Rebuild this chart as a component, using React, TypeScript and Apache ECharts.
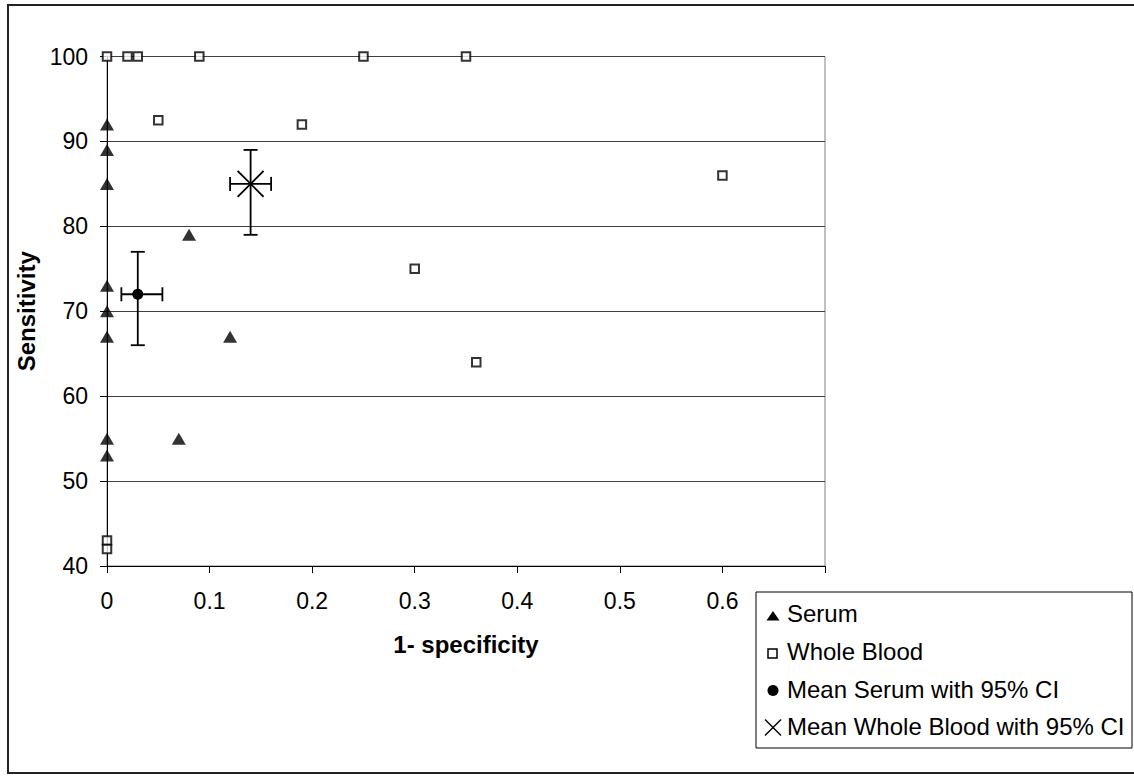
import React, { useEffect, useRef } from "react";
import * as echarts from "echarts";

// ---- data ----
const serumX = [0, 0, 0, 0, 0, 0, 0, 0, 0.08, 0.12, 0.07];
const serumY = [92, 89, 85, 73, 70, 67, 55, 53, 79, 67, 55];

const bloodX = [0, 0.02, 0.03, 0.09, 0.25, 0.35, 0.05, 0.19, 0.6, 0.3, 0.36, 0, 0];
const bloodY = [100, 100, 100, 100, 100, 100, 92.5, 92, 86, 75, 64, 43, 42];

const meanNames = ["Mean Serum with 95% CI", "Mean Whole Blood with 95% CI"];
const meanX = [0.03, 0.14];
const meanY = [72, 85];
const meanXLow = [0.014, 0.12];
const meanXHigh = [0.054, 0.16];
const meanYLow = [66, 79];
const meanYHigh = [77, 89];

const legendLabels = ["Serum", "Whole Blood", "Mean Serum with 95% CI", "Mean Whole Blood with 95% CI"];
const xAxisTitle = "1- specificity";
const yAxisTitle = "Sensitivity";

const FONT = "'Liberation Sans', Arial, Helvetica, sans-serif";

function meanRenderer(marker: "circle" | "cross") {
  return (params: any, api: any) => {
    const x = api.value(0), y = api.value(1);
    const xl = api.value(2), xh = api.value(3), yl = api.value(4), yh = api.value(5);
    const c = api.coord([x, y]);
    const t = api.coord([x, yh]);
    const b = api.coord([x, yl]);
    const l = api.coord([xl, y]);
    const r = api.coord([xh, y]);
    const cap = 7;
    const st = { stroke: "#000", lineWidth: 1.8, fill: null };
    const line = (x1: number, y1: number, x2: number, y2: number) => ({
      type: "line",
      shape: { x1, y1, x2, y2 },
      style: st,
    });
    const children: any[] = [
      line(t[0], t[1], b[0], b[1]),
      line(t[0] - cap, t[1], t[0] + cap, t[1]),
      line(b[0] - cap, b[1], b[0] + cap, b[1]),
      line(l[0], l[1], r[0], r[1]),
      line(l[0], l[1] - cap, l[0], l[1] + cap),
      line(r[0], r[1] - cap, r[0], r[1] + cap),
    ];
    if (marker === "circle") {
      children.push({ type: "circle", shape: { cx: c[0], cy: c[1], r: 5.5 }, style: { fill: "#000" } });
    } else {
      const s = 13;
      children.push(line(c[0] - s, c[1] - s, c[0] + s, c[1] + s));
      children.push(line(c[0] - s, c[1] + s, c[0] + s, c[1] - s));
    }
    return { type: "group", children };
  };
}

function buildLegend() {
  const boxX = 756, boxY = 592, boxW = 376, boxH = 156;
  const iconX = 773, textX = 787;
  const rowY = [613, 651, 689.5, 726.5];
  const els: any[] = [
    {
      type: "rect",
      shape: { x: boxX, y: boxY, width: boxW, height: boxH },
      style: { fill: "#fff", stroke: "#000", lineWidth: 1 },
      z: 10,
    },
  ];
  els.push({
    type: "polygon",
    shape: { points: [[iconX - 6.5, rowY[0] + 7.5], [iconX + 6.5, rowY[0] + 7.5], [iconX, rowY[0] - 2]] },
    style: { fill: "#000" },
    z: 11,
  });
  els.push({
    type: "rect",
    shape: { x: iconX - 5, y: rowY[1] - 2, width: 9, height: 9 },
    style: { fill: "#fff", stroke: "#000", lineWidth: 1.5 },
    z: 11,
  });
  els.push({
    type: "circle",
    shape: { cx: iconX, cy: rowY[2] + 1, r: 5.5 },
    style: { fill: "#000" },
    z: 11,
  });
  const xs = 8;
  els.push({
    type: "line",
    shape: { x1: iconX - xs, y1: rowY[3] - xs + 1, x2: iconX + xs, y2: rowY[3] + xs + 1 },
    style: { stroke: "#000", lineWidth: 1.4 },
    z: 11,
  });
  els.push({
    type: "line",
    shape: { x1: iconX - xs, y1: rowY[3] + xs + 1, x2: iconX + xs, y2: rowY[3] - xs + 1 },
    style: { stroke: "#000", lineWidth: 1.4 },
    z: 11,
  });
  legendLabels.forEach((txt, i) => {
    els.push({
      type: "text",
      x: textX,
      y: rowY[i],
      style: {
        text: txt,
        fill: "#000",
        font: `24px ${FONT}`,
        textAlign: "left",
        textVerticalAlign: "middle",
      },
      z: 11,
    });
  });
  return els;
}

export default function App() {
  const ref = useRef<HTMLDivElement>(null);
  useEffect(() => {
    document.body.style.margin = "0";
    if (!ref.current) return;
    const chart = echarts.init(ref.current, null, { renderer: "svg" });
    const option: any = {
      animation: false,
      backgroundColor: "#fff",
      textStyle: { fontFamily: FONT },
      grid: {
        left: 107,
        top: 56.5,
        right: 1134 - 825,
        bottom: 779 - 566,
        show: true,
        borderColor: "#808080",
        borderWidth: 1,
        backgroundColor: "transparent",
      },
      xAxis: {
        type: "value",
        min: 0,
        max: 0.7,
        interval: 0.1,
        name: xAxisTitle,
        nameLocation: "middle",
        nameGap: 66,
        nameTextStyle: { fontSize: 24, fontWeight: "bold", color: "#000", fontFamily: FONT },
        axisLine: { show: true, onZero: false, lineStyle: { color: "#000", width: 1 } },
        axisTick: { show: true, inside: false, length: 7, lineStyle: { color: "#000" } },
        axisLabel: {
          fontSize: 23,
          color: "#000",
          margin: 23,
          fontFamily: FONT,
          formatter: (v: number) => (v > 0.65 ? "" : String(Math.round(v * 10) / 10)),
        },
        splitLine: { show: false },
      },
      yAxis: {
        type: "value",
        min: 40,
        max: 100,
        interval: 10,
        name: yAxisTitle,
        nameLocation: "middle",
        nameGap: 65,
        nameTextStyle: { fontSize: 24, fontWeight: "bold", color: "#000", fontFamily: FONT },
        axisLine: { show: true, onZero: false, lineStyle: { color: "#000", width: 1 } },
        axisTick: { show: true, inside: false, length: 7, lineStyle: { color: "#000" } },
        axisLabel: { fontSize: 23, color: "#000", margin: 19, fontFamily: FONT },
        splitLine: { show: true, lineStyle: { color: "#404040", width: 1 } },
      },
      series: [
        {
          name: meanNames[0],
          type: "custom",
          renderItem: meanRenderer("circle"),
          dimensions: ["x", "y", "xLow", "xHigh", "yLow", "yHigh"],
          encode: { x: 0, y: 1 },
          data: [[meanX[0], meanY[0], meanXLow[0], meanXHigh[0], meanYLow[0], meanYHigh[0]]],
          z: 3,
        },
        {
          name: meanNames[1],
          type: "custom",
          renderItem: meanRenderer("cross"),
          dimensions: ["x", "y", "xLow", "xHigh", "yLow", "yHigh"],
          encode: { x: 0, y: 1 },
          data: [[meanX[1], meanY[1], meanXLow[1], meanXHigh[1], meanYLow[1], meanYHigh[1]]],
          z: 3,
        },
        {
          name: legendLabels[0],
          type: "scatter",
          symbol: "triangle",
          symbolSize: [14, 12],
          clip: false,
          itemStyle: { color: "#000" },
          data: serumX.map((x, i) => [x, serumY[i]]),
          z: 4,
        },
        {
          name: legendLabels[1],
          type: "scatter",
          symbol: "rect",
          symbolSize: 8.5,
          clip: false,
          itemStyle: { color: "#fff", borderColor: "#000", borderWidth: 2 },
          data: bloodX.map((x, i) => [x, bloodY[i]]),
          z: 4,
        },
      ],
      graphic: [
        {
          type: "rect",
          shape: { x: 8, y: 5, width: 1140, height: 768 },
          style: { fill: null, stroke: "#222", lineWidth: 2 },
          z: 0,
          silent: true,
        },
        ...buildLegend(),
      ],
    };
    chart.setOption(option);
    return () => chart.dispose();
  }, []);
  return <div ref={ref} style={{ width: 1134, height: 779 }} />;
}
